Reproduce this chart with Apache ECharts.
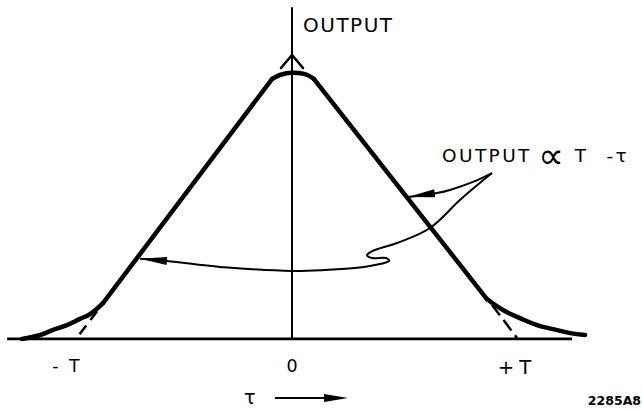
<!DOCTYPE html>
<html>
<head>
<meta charset="utf-8">
<title>Output versus delay</title>
<script src="https://cdn.jsdelivr.net/npm/echarts@6/dist/echarts.min.js"></script>
<style>
  html, body { margin: 0; padding: 0; background: #fff; }
  #chart { width: 642px; height: 410px; }
  /* lettering spacing, keyed on each text group's font size */
  #chart text[style*="17.4px"] { letter-spacing: 12px; }
  #chart text[style*="19.6px"] { letter-spacing: 5px; }
  #chart text[style*="18.5px"] { letter-spacing: 2.4px; }
  #chart text[style*="20px"] { letter-spacing: 1.5px; }
</style>
</head>
<body>
<div id="chart"></div>
<script>
// delay axis in units of T, output normalised to the peak
const tickValues = [-1, 0, 1];
const tickLabels = ['-T', '0', '+T'];
const tickStyles = ['neg', 'zero', 'pos'];

// response curve, piece by piece: [tau, output]
const tailLeft = [[-1.227, 0], [-1.145, 0.015], [-1.086, 0.034], [-1.023, 0.052],
                  [-0.964, 0.075], [-0.918, 0.093], [-0.859, 0.134]];
const slopeLeft = [[-0.859, 0.134], [-0.091, 0.970]];
const peakArc = [[-0.091, 0.970], [-0.055, 0.985], [0, 0.993], [0.055, 0.989], [0.100, 0.970]];
const slopeRight = [[0.100, 0.970], [0.886, 0.149]];
const tailRight = [[0.886, 0.149], [0.959, 0.108], [1.036, 0.078], [1.114, 0.052],
                   [1.186, 0.037], [1.264, 0.022], [1.332, 0.015]];

// straight-line extensions of the slopes down to the baseline
const extendLeft = [[-0.886, 0.104], [-0.982, 0]];
const extendRight = [[0.909, 0.127], [1.023, 0.004]];

// baseline extent
const baseline = [[-1.295, 0], [1.273, 0]];

// arrowhead on the output axis
const axisArrow = [[-0.05, 1.011], [0, 1.06], [0.05, 1.011]];

// leader lines from the annotation to the two slopes
const leaderUpper = [[0.909, 0.619], [0.823, 0.586], [0.718, 0.556], [0.659, 0.545], [0.527, 0.530]];
const leaderLower = [[0.909, 0.619], [0.768, 0.522], [0.627, 0.414], [0.477, 0.358], [0.377, 0.332],
                     [0.341, 0.313], [0.364, 0.302], [0.427, 0.302], [0.441, 0.291], [0.400, 0.280],
                     [0.286, 0.265], [0, 0.254], [-0.327, 0.269], [-0.568, 0.291], [-0.691, 0.299]];

const INK = '#000';
const FONT = 'DejaVu Sans';

function curve(data, smooth) {
  return {
    type: 'line', data: data, smooth: smooth, showSymbol: false, silent: true, z: 5,
    lineStyle: { color: INK, width: 4.5, cap: 'round', join: 'round' }
  };
}
function dashed(data, pattern) {
  return {
    type: 'line', data: data, showSymbol: false, silent: true, z: 4,
    lineStyle: { color: INK, width: 2.5, type: pattern }
  };
}

const chart = echarts.init(document.getElementById('chart'), null, { renderer: 'svg' });

chart.setOption({
  animation: false,
  backgroundColor: '#fff',
  grid: { left: 6, right: 20, top: 8, bottom: 71 },
  xAxis: {
    type: 'value', min: -1.3, max: 1.5,
    axisLine: { show: false }, axisTick: { show: false }, splitLine: { show: false },
    axisLabel: {
      customValues: tickValues,
      formatter: v => {
        const i = tickValues.indexOf(v);
        return '{' + tickStyles[i] + '|' + tickLabels[i] + '}';
      },
      color: INK, fontFamily: FONT, fontSize: 17.5, margin: 18,
      rich: {
        neg: { color: INK, fontFamily: FONT, fontSize: 17.4 },
        zero: { color: INK, fontFamily: FONT, fontSize: 17.5 },
        pos: { color: INK, fontFamily: FONT, fontSize: 19.6, padding: [0, 0, 0, 10] }
      }
    }
  },
  yAxis: {
    type: 'value', min: 0, max: 1.235,
    axisLine: { show: true, onZero: true, lineStyle: { color: INK, width: 2 } },
    axisTick: { show: false }, axisLabel: { show: false }, splitLine: { show: false }
  },
  series: [
    {
      type: 'line', data: baseline, showSymbol: false, silent: true, z: 3,
      lineStyle: { color: INK, width: 3 }
    },
    curve(tailLeft, 0.4),
    curve(slopeLeft, false),
    curve(peakArc, 0.4),
    curve(slopeRight, false),
    curve(tailRight, 0.4),
    dashed(extendLeft, [11, 7]),
    dashed(extendRight, [13, 6])
  ]
});

const toPx = p => chart.convertToPixel({ gridIndex: 0 }, p);

function arrowHead(tip, from, len, halfWidth) {
  const dx = tip[0] - from[0], dy = tip[1] - from[1];
  const d = Math.hypot(dx, dy);
  const ux = dx / d, uy = dy / d;
  const bx = tip[0] - ux * len, by = tip[1] - uy * len;
  return {
    type: 'polygon', silent: true, z: 10,
    shape: { points: [tip, [bx - uy * halfWidth, by + ux * halfWidth], [bx + uy * halfWidth, by - ux * halfWidth]] },
    style: { fill: INK }
  };
}

function leader(points) {
  const px = points.map(toPx);
  return [
    {
      type: 'polyline', silent: true, z: 9,
      shape: { points: px, smooth: 0.35 },
      style: { stroke: INK, lineWidth: 2, fill: null }
    },
    arrowHead(px[px.length - 1], px[px.length - 2], 27, 4)
  ];
}

const axisArrowPx = axisArrow.map(toPx);
const tauTip = [348, 398], tauTail = [275, 398];

chart.setOption({
  graphic: [
    {
      type: 'polyline', silent: true, z: 9,
      shape: { points: axisArrowPx },
      style: { stroke: INK, lineWidth: 2.5, fill: null, lineCap: 'round', lineJoin: 'miter' }
    },
    ...leader(leaderUpper),
    ...leader(leaderLower),
    {
      type: 'text', silent: true, left: 303, top: 15,
      style: { text: 'OUTPUT', fill: INK, font: '20px "DejaVu Sans"' }
    },
    {
      type: 'text', silent: true, left: 442, top: 137.5,
      style: {
        text: 'OUTPUT {p|∝} T {q|-τ}', fill: INK, font: '18.5px "DejaVu Sans"',
        rich: {
          p: { fill: INK, fontFamily: FONT, fontSize: 36, padding: [0, 2.5, 0, 15] },
          q: { fill: INK, fontFamily: FONT, fontSize: 18.5, padding: [0, 0, 0, 17] }
        }
      }
    },
    {
      type: 'text', silent: true, left: 244, top: 387,
      style: { text: 'τ', fill: INK, font: '19px "DejaVu Sans"' }
    },
    {
      type: 'line', silent: true,
      shape: { x1: tauTail[0], y1: tauTail[1], x2: tauTip[0] - 10, y2: tauTip[1] },
      style: { stroke: INK, lineWidth: 2 }
    },
    arrowHead(tauTip, tauTail, 24, 4),
    {
      type: 'text', silent: true, right: 1, top: 394,
      style: { text: '2285A8', fill: INK, font: 'bold 12.5px "DejaVu Sans"' }
    }
  ]
});
</script>
</body>
</html>
